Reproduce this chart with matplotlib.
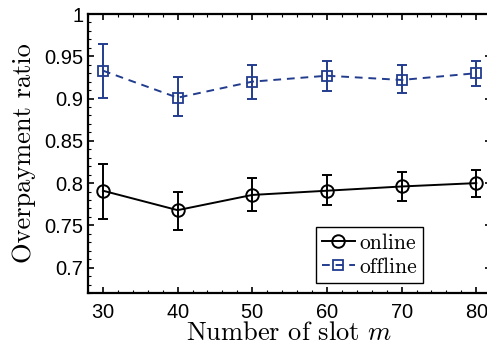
import numpy as np
import matplotlib.pyplot as plt
from matplotlib.ticker import MultipleLocator

plt.rcParams['mathtext.fontset'] = 'cm'
plt.rcParams['axes.formatter.use_mathtext'] = True

slots = np.array([30, 40, 50, 60, 70, 80])

online = np.array([0.791, 0.768, 0.786, 0.791, 0.796, 0.800])
online_lo = np.array([0.758, 0.745, 0.767, 0.774, 0.779, 0.784])
online_hi = np.array([0.822, 0.790, 0.806, 0.809, 0.813, 0.815])

offline = np.array([0.933, 0.901, 0.920, 0.927, 0.922, 0.930])
offline_lo = np.array([0.901, 0.879, 0.900, 0.909, 0.906, 0.915])
offline_hi = np.array([0.965, 0.925, 0.940, 0.945, 0.940, 0.945])

blue = '#223c8e'

fig = plt.figure(figsize=(4.87, 3.45), dpi=100)
ax = fig.add_axes([0.1807, 0.1507, 0.828, 0.8087])

# error bars first, then the lines with markers (those go in the legend)
ax.errorbar(slots, online, yerr=[online - online_lo, online_hi - online],
            fmt='none', ecolor='black', capsize=3.5, elinewidth=1.4, capthick=1.4)
ax.errorbar(slots, offline, yerr=[offline - offline_lo, offline_hi - offline],
            fmt='none', ecolor=blue, capsize=3.5, elinewidth=1.4, capthick=1.4)
ax.plot(slots, online, color='black', marker='o', markersize=9,
        markerfacecolor='none', markeredgewidth=1.4, linewidth=1.4, label='online')
ax.plot(slots, offline, color=blue, marker='s', markersize=7,
        markerfacecolor='none', markeredgewidth=1.3, linewidth=1.4,
        linestyle='--', dashes=(4, 3), label='offline')

ax.set_xlim(28, 82)
ax.set_ylim(0.67, 1.0)
ax.set_xticks(slots)
ax.set_yticks([0.7, 0.75, 0.8, 0.85, 0.9, 0.95, 1.0])
ax.set_yticklabels(['0.7', '0.75', '0.8', '0.85', '0.9', '0.95', '1'])
ax.xaxis.set_minor_locator(MultipleLocator(2))
ax.yaxis.set_minor_locator(MultipleLocator(0.01))
ax.tick_params(which='both', direction='in', top=True, right=True)
ax.tick_params(which='major', length=4, width=1.2, labelsize=14.5)
ax.tick_params(axis='x', which='major', pad=7)
ax.tick_params(which='minor', length=2, width=0.8)
for lbl in ax.get_xticklabels() + ax.get_yticklabels():
    lbl.set_fontfamily('Liberation Sans')
for s in ax.spines.values():
    s.set_linewidth(1.6)

ax.set_xlabel(r'Number of slot $m$', fontfamily='cmr10', fontsize=19, labelpad=0)
ax.set_ylabel('Overpayment ratio', fontfamily='cmr10', fontsize=19, labelpad=6)

leg = ax.legend(loc='lower right', bbox_to_anchor=(0.831, 0.036), borderaxespad=0,
                prop={'family': 'cmr10', 'size': 15.5}, handlelength=1.5,
                handletextpad=0.2, borderpad=0.3, labelspacing=0.2,
                fancybox=False, framealpha=1, edgecolor='black')
leg.get_frame().set_linewidth(1.0)

fig.savefig('out.png', dpi=100)
